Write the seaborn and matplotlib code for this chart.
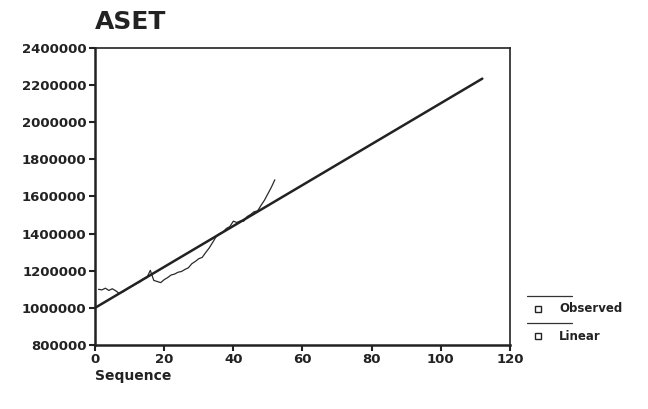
import matplotlib
matplotlib.use("Agg")
import matplotlib.pyplot as plt
import seaborn as sns
import pandas as pd
from matplotlib.lines import Line2D

# ---- data ----
observed_seq = list(range(1, 53))
observed_val = [1100000, 1097000, 1106000, 1094000, 1103000, 1092000, 1078000, 1086000,
                1098000, 1112000, 1120000, 1132000, 1140000, 1157000, 1163000, 1202000,
                1148000, 1142000, 1136000, 1152000, 1163000, 1177000, 1182000, 1192000,
                1196000, 1207000, 1216000, 1238000, 1250000, 1265000, 1272000, 1298000,
                1322000, 1352000, 1383000, 1400000, 1408000, 1428000, 1438000, 1467000,
                1460000, 1468000, 1467000, 1492000, 1503000, 1518000, 1522000, 1552000,
                1580000, 1615000, 1650000, 1690000]
linear_seq = [0, 112]
linear_val = [1000000, 2235000]
x_ticks = [0, 20, 40, 60, 80, 100, 120]
y_ticks = [800000, 1000000, 1200000, 1400000, 1600000, 1800000, 2000000, 2200000, 2400000]
title = "ASET"
x_label = "Sequence"
legend_labels = ["Observed", "Linear"]

sns.set_theme(style="white")
plt.rcParams['font.family'] = ['DejaVu Sans']

fig = plt.figure(figsize=(6.48, 4.09), dpi=100)
ax = fig.add_axes([95/648, 1-345/409, (510-95)/648, (345-48)/409])

obs_df = pd.DataFrame({"seq": observed_seq, "val": observed_val})
lin_df = pd.DataFrame({"seq": linear_seq, "val": linear_val})
sns.lineplot(data=obs_df, x="seq", y="val", ax=ax, color="#2a2a2a", linewidth=0.9)
sns.lineplot(data=lin_df, x="seq", y="val", ax=ax, color="#222222", linewidth=1.8)

ax.set_xlim(0, 120)
ax.set_ylim(800000, 2400000)
ax.set_xticks(x_ticks)
ax.set_yticks(y_ticks)
ax.set_xticklabels([str(v) for v in x_ticks], fontweight="bold", fontsize=9.5, color="#222222")
ax.set_yticklabels([str(v) for v in y_ticks], fontweight="bold", fontsize=9.5, color="#222222")
ax.tick_params(axis="both", direction="out", length=4, width=1.5, color="#222222", pad=2,
               bottom=True, left=True)
ax.set_xlabel("")
ax.set_ylabel("")
for s in ax.spines.values():
    s.set_visible(True)
    s.set_color("#222222")
    s.set_linewidth(1.2)
ax.spines["left"].set_linewidth(1.8)
ax.spines["bottom"].set_linewidth(1.8)

fig.text(95/648, 1-22/409, title, fontsize=18, fontweight="bold", color="#222222",
         ha="left", va="center")
fig.text(95/648, 1-376/409, x_label, fontsize=10, fontweight="bold", color="#222222",
         ha="left", va="center")

# legend emulating SPSS style
for i, lab in enumerate(legend_labels):
    yline = 296 + i * 27
    ytxt = 309 + i * 27
    fig.add_artist(Line2D([527/648, 572/648], [1-yline/409, 1-yline/409],
                          color="#333333", linewidth=0.9, transform=fig.transFigure))
    fig.add_artist(Line2D([538/648], [1-ytxt/409], marker="s", markersize=4,
                          markerfacecolor="white", markeredgecolor="#222222",
                          markeredgewidth=1.0, linestyle="none", transform=fig.transFigure))
    fig.text(559/648, 1-ytxt/409, lab, fontsize=8.5, fontweight="bold", color="#222222",
             ha="left", va="center")

fig.savefig("out.png", dpi=100, facecolor="white")
